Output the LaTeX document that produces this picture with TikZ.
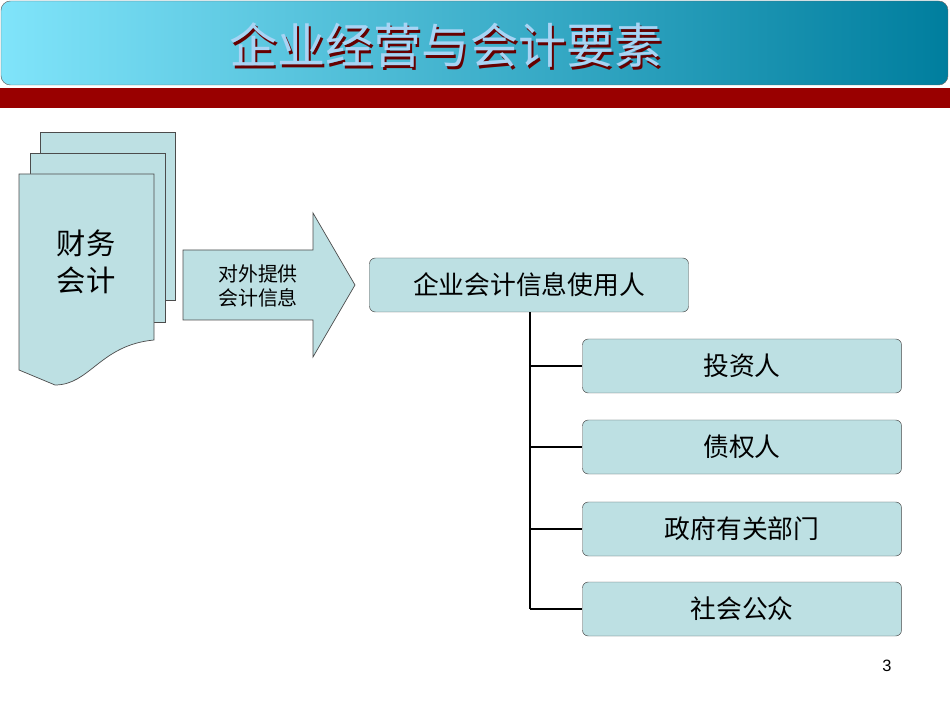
\documentclass[tikz,border=0pt]{standalone}
\usepackage{fontspec}
\setmainfont{Liberation Sans}
\newfontfamily\cjk{Noto Sans CJK SC}
\usetikzlibrary{positioning, calc}
\definecolor{paleblue}{HTML}{BDE0E3}
\definecolor{darkred}{HTML}{990000}
\definecolor{titleleft}{HTML}{80E4FA}
\definecolor{titleright}{HTML}{007E9E}
\definecolor{titletext}{HTML}{A8D4F4}
\begin{document}
\begin{tikzpicture}[x=0.03cm, y=-0.03cm,
    every node/.style={font=\cjk},
    sheet/.style={draw=black!70, fill=paleblue, line width=0.6pt},
    userbox/.style={draw=black!70, fill=paleblue, rounded corners=5pt, minimum width=9.57cm, minimum height=1.62cm, font=\cjk\fontsize{22}{26}\selectfont}]
        \useasboundingbox (0,0) rectangle (950,713);
        % Title bar
        \shade[left color=titleleft, right color=titleright, rounded corners=8pt, draw=black!60] (1,1) rectangle (948,85);
        \fill[darkred] (0,88) rectangle (950,108);
        \node[text=red!40!black] (shadow) at (448,48) {\fontsize{41}{44}\selectfont 企业经营与会计要素};
        \node[text=titletext] (title) at (446,45) {\fontsize{41}{44}\selectfont 企业经营与会计要素};
        % Stack of documents
        \draw[sheet] (40,132) rectangle (175,300);
        \draw[sheet] (30,153) rectangle (165,322);
        \draw[sheet] (19,174) -- (154,174) -- (154,340) .. controls (100,345) and (90,385) .. (55,385) -- (19,370) -- cycle;
        \node[align=center, font=\cjk\fontsize{25}{32}\selectfont] (fin) at (86,262) {财务\\会计};
        % Big arrow
        \draw[sheet] (183,250) -- (313,250) -- (313,213) -- (355,285) -- (313,357) -- (313,320) -- (183,320) -- cycle;
        \node[align=center, font=\cjk\fontsize{17}{21}\selectfont] (provide) at (258,286) {对外提供\\会计信息};
        % Users
        \node[userbox] (users) at (529,285) {企业会计信息使用人};
        \node[userbox] (inv) at (742,366) {投资人};
        \node[userbox] (cred) at (742,447) {债权人};
        \node[userbox] (gov) at (742,529) {政府有关部门};
        \node[userbox] (pub) at (742,609) {社会公众};
        \coordinate (trunk) at (530,609);
        \draw[line width=1.8pt] (users.south -| trunk) -- (trunk);
        \foreach \b in {inv, cred, gov, pub} {
            \draw[line width=1.8pt] (\b.west -| trunk) -- (\b.west);
        }
        \node[font=\fontsize{14}{16}\selectfont] (page) at (887,666) {3};
\end{tikzpicture}
\end{document}
